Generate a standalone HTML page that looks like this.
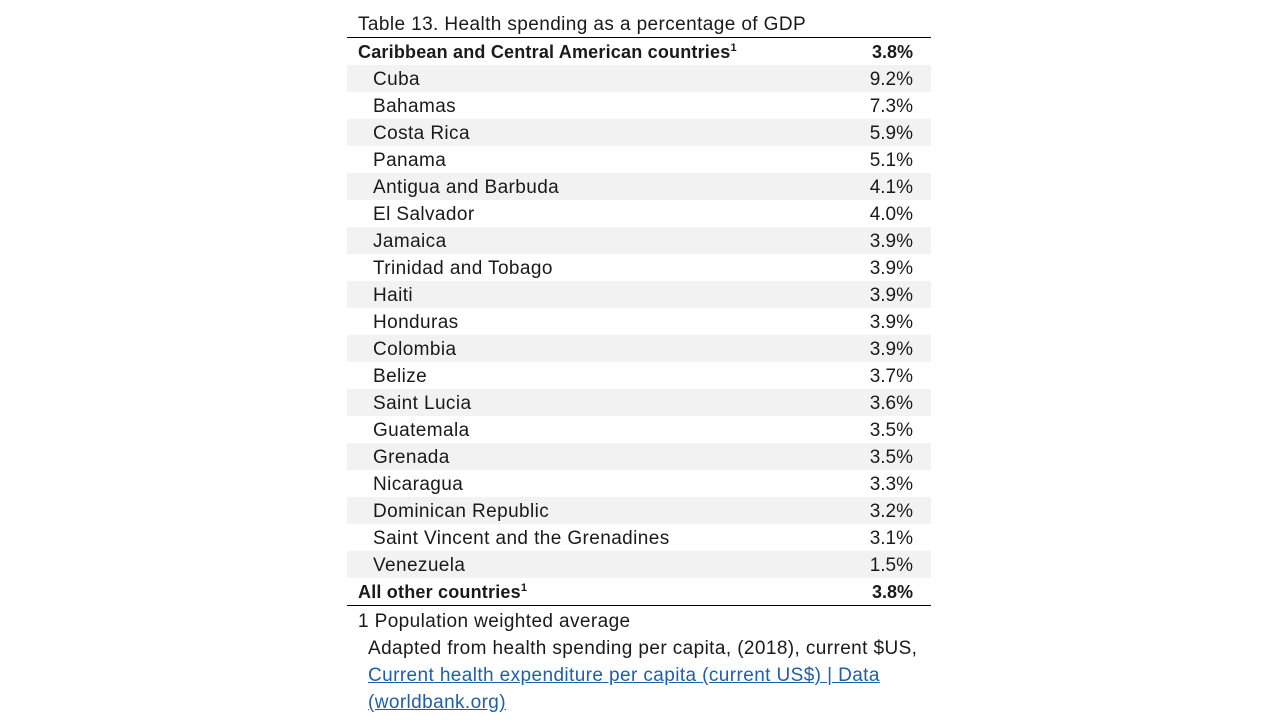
<!DOCTYPE html>
<html><head><meta charset="utf-8"><style>
body{margin:0;width:1280px;height:720px;background:#fff;font-family:"Liberation Sans",sans-serif;color:#1a1a1a;position:relative;overflow:hidden}
.t{position:absolute;white-space:nowrap;font-size:19px;line-height:27px;letter-spacing:0.4px}
.row{position:absolute;left:347px;width:584px;height:27px}
.g{background:#f2f2f2}
.n{position:absolute;left:26px;top:1px;font-size:19px;line-height:27px;white-space:nowrap;letter-spacing:0.4px}
.v{position:absolute;right:18px;top:1px;font-size:19px;line-height:27px;letter-spacing:0}
.b .n{left:11px;font-weight:bold;font-size:18px;letter-spacing:0.2px}
.b .v{font-weight:bold;font-size:18px}
sup{font-size:11px;vertical-align:7px;line-height:0}
.line{position:absolute;left:347px;width:584px;height:1px;background:#000}
a{color:#1f5fa8;text-decoration:underline}
</style></head><body>
<div class="t" style="left:358px;top:11px">Table 13. Health spending as a percentage of GDP</div>
<div class="line" style="top:37px"></div>
<div class="row b" style="top:38px"><span class="n">Caribbean and Central American countries<sup>1</sup></span><span class="v">3.8%</span></div>
<div class="row g" style="top:65px"><span class="n">Cuba</span><span class="v">9.2%</span></div>
<div class="row" style="top:92px"><span class="n">Bahamas</span><span class="v">7.3%</span></div>
<div class="row g" style="top:119px"><span class="n">Costa Rica</span><span class="v">5.9%</span></div>
<div class="row" style="top:146px"><span class="n">Panama</span><span class="v">5.1%</span></div>
<div class="row g" style="top:173px"><span class="n">Antigua and Barbuda</span><span class="v">4.1%</span></div>
<div class="row" style="top:200px"><span class="n">El Salvador</span><span class="v">4.0%</span></div>
<div class="row g" style="top:227px"><span class="n">Jamaica</span><span class="v">3.9%</span></div>
<div class="row" style="top:254px"><span class="n">Trinidad and Tobago</span><span class="v">3.9%</span></div>
<div class="row g" style="top:281px"><span class="n">Haiti</span><span class="v">3.9%</span></div>
<div class="row" style="top:308px"><span class="n">Honduras</span><span class="v">3.9%</span></div>
<div class="row g" style="top:335px"><span class="n">Colombia</span><span class="v">3.9%</span></div>
<div class="row" style="top:362px"><span class="n">Belize</span><span class="v">3.7%</span></div>
<div class="row g" style="top:389px"><span class="n">Saint Lucia</span><span class="v">3.6%</span></div>
<div class="row" style="top:416px"><span class="n">Guatemala</span><span class="v">3.5%</span></div>
<div class="row g" style="top:443px"><span class="n">Grenada</span><span class="v">3.5%</span></div>
<div class="row" style="top:470px"><span class="n">Nicaragua</span><span class="v">3.3%</span></div>
<div class="row g" style="top:497px"><span class="n">Dominican Republic</span><span class="v">3.2%</span></div>
<div class="row" style="top:524px"><span class="n">Saint Vincent and the Grenadines</span><span class="v">3.1%</span></div>
<div class="row g" style="top:551px"><span class="n">Venezuela</span><span class="v">1.5%</span></div>
<div class="row b" style="top:578px"><span class="n">All other countries<sup>1</sup></span><span class="v">3.8%</span></div>
<div class="line" style="top:605px"></div>
<div class="t" style="left:358px;top:608px">1 Population weighted average</div>
<div class="t" style="left:368px;top:635px">Adapted from health spending per capita, (2018), current $US,</div>
<div class="t" style="left:368px;top:662px"><a>Current health expenditure per capita (current US$) | Data</a></div>
<div class="t" style="left:368px;top:689px"><a>(worldbank.org)</a></div>
</body></html>
